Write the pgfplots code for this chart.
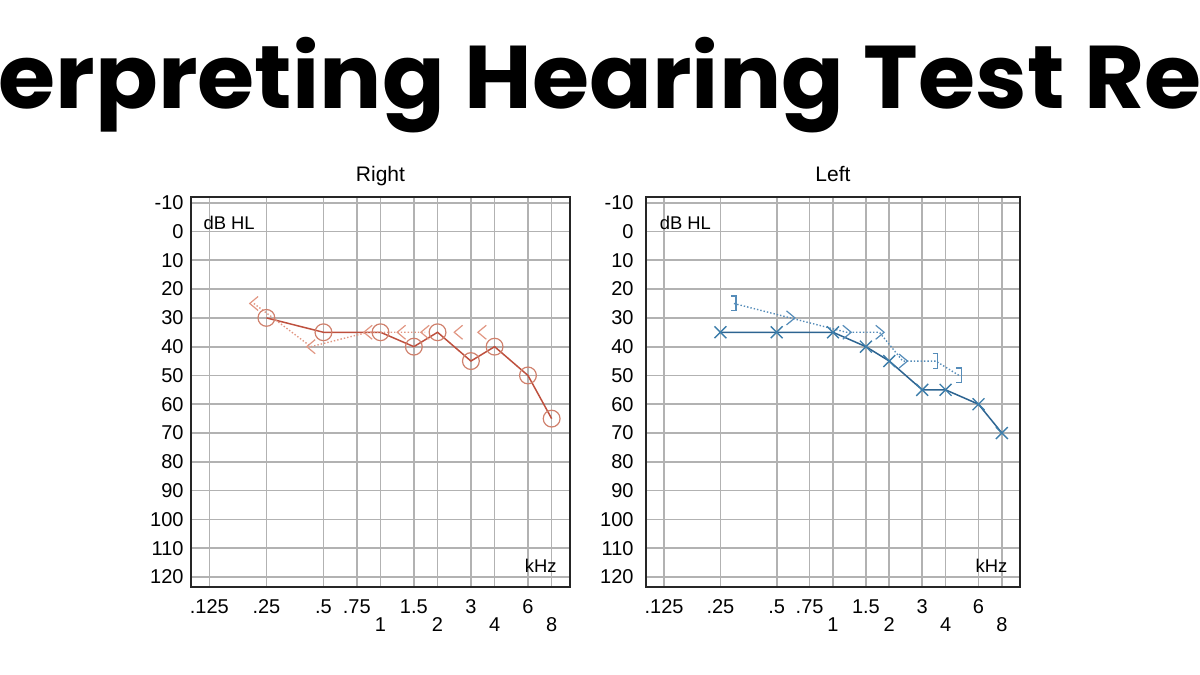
\documentclass[border=0pt]{standalone}
\usepackage{fontspec}
\setmainfont{Liberation Sans}
\newfontfamily\titlefont{Poppins}
\usepackage{pgfplots}
\pgfplotsset{compat=1.18}

\definecolor{airR}{RGB}{190,80,62}
\definecolor{markR}{RGB}{208,128,108}
\definecolor{boneR}{RGB}{225,150,130}
\definecolor{airL}{RGB}{45,100,145}
\definecolor{markL}{RGB}{60,125,170}
\definecolor{boneL}{RGB}{85,140,185}
\definecolor{gridc}{RGB}{178,178,178}

% bone conduction marks: < (right ear), > and ] (left ear)
\pgfdeclareplotmark{ltmark}{%
  \pgfpathmoveto{\pgfqpoint{0.6\pgfplotmarksize}{\pgfplotmarksize}}%
  \pgfpathlineto{\pgfqpoint{-0.6\pgfplotmarksize}{0pt}}%
  \pgfpathlineto{\pgfqpoint{0.6\pgfplotmarksize}{-\pgfplotmarksize}}%
  \pgfusepathqstroke}
\pgfdeclareplotmark{gtmark}{%
  \pgfpathmoveto{\pgfqpoint{-0.6\pgfplotmarksize}{\pgfplotmarksize}}%
  \pgfpathlineto{\pgfqpoint{0.6\pgfplotmarksize}{0pt}}%
  \pgfpathlineto{\pgfqpoint{-0.6\pgfplotmarksize}{-\pgfplotmarksize}}%
  \pgfusepathqstroke}
\pgfdeclareplotmark{rbmark}{%
  \pgfpathmoveto{\pgfqpoint{-0.35\pgfplotmarksize}{\pgfplotmarksize}}%
  \pgfpathlineto{\pgfqpoint{0.35\pgfplotmarksize}{\pgfplotmarksize}}%
  \pgfpathlineto{\pgfqpoint{0.35\pgfplotmarksize}{-\pgfplotmarksize}}%
  \pgfpathlineto{\pgfqpoint{-0.35\pgfplotmarksize}{-\pgfplotmarksize}}%
  \pgfusepathqstroke}

\begin{document}
\begin{tikzpicture}
\useasboundingbox (0,0) rectangle (600pt,337.5pt);
\node[anchor=base, inner sep=0pt, font=\titlefont\bfseries\fontsize{44.5}{50}\selectfont] at (326pt,283pt) {\scalebox{1.04}[1]{Interpreting Hearing Test Results}};

% right ear
\begin{axis}[
  at={(95.5pt,44pt)}, anchor=south west,
  scale only axis, width=189.5pt, height=195pt, clip=false,
  xmode=log, log basis x=2, xmin=0.1, xmax=10,
  y dir=reverse, ymin=-12, ymax=123.5,
  xtick={0.125,0.25,0.5,0.75,1,1.5,2,3,4,6,8},
  xticklabels={.125,.25,.5,.75,\raisebox{-9pt}{1},1.5,\raisebox{-9pt}{2},3,\raisebox{-9pt}{4},6,\raisebox{-9pt}{8}},
  ytick={-10,0,10,20,30,40,50,60,70,80,90,100,110,120},
  yticklabels={-10,0,10,20,30,40,50,60,70,80,90,100,110,120},
  grid=major, major grid style={gridc, line width=0.85pt},
  axis line style={black!85, line width=1pt},
  major tick length=0pt,
  tick label style={font=\fontsize{10}{12}\selectfont},
  xticklabel style={anchor=base, inner sep=0pt, yshift=-13pt},
  yticklabel style={anchor=east, inner sep=0pt, xshift=-3.5pt},
]
\addplot[airR, line width=0.75pt, mark=o, mark size=4.2pt,
  mark options={draw=markR, fill=white, line width=0.6pt}] coordinates {
  (0.25,30) (0.5,35) (1,35) (1.5,40) (2,35) (3,45) (4,40) (6,50) (8,65)};
\addplot[boneR, densely dotted, line width=0.7pt, xshift=-6.25pt, mark=ltmark, mark size=3.5pt,
  mark options={solid, line width=0.6pt}] coordinates {
  (0.25,25) (0.5,40) (1,35) (1.5,35) (2,35)};
\addplot[boneR, only marks, xshift=-6.25pt, mark=ltmark, mark size=3.5pt,
  mark options={solid, line width=0.6pt}] coordinates {
  (3,35) (4,35)};
\node[anchor=base, font=\fontsize{10.5}{12}\selectfont] at (axis cs:1,-17.3) {Right};
\node[anchor=base west, font=\fontsize{9.2}{11}\selectfont, inner sep=0pt] at (axis cs:0.116,-0.6) {dB HL};
\node[anchor=base east, font=\fontsize{9.2}{11}\selectfont, inner sep=0pt] at (axis cs:8.54,118.4) {kHz};
\end{axis}

% left ear
\begin{axis}[
  at={(323pt,44pt)}, anchor=south west,
  scale only axis, width=187pt, height=195pt, clip=false,
  xmode=log, log basis x=2, xmin=0.1, xmax=10,
  y dir=reverse, ymin=-12, ymax=123.5,
  xtick={0.125,0.25,0.5,0.75,1,1.5,2,3,4,6,8},
  xticklabels={.125,.25,.5,.75,\raisebox{-9pt}{1},1.5,\raisebox{-9pt}{2},3,\raisebox{-9pt}{4},6,\raisebox{-9pt}{8}},
  ytick={-10,0,10,20,30,40,50,60,70,80,90,100,110,120},
  yticklabels={-10,0,10,20,30,40,50,60,70,80,90,100,110,120},
  grid=major, major grid style={gridc, line width=0.85pt},
  axis line style={black!85, line width=1pt},
  major tick length=0pt,
  tick label style={font=\fontsize{10}{12}\selectfont},
  xticklabel style={anchor=base, inner sep=0pt, yshift=-13pt},
  yticklabel style={anchor=east, inner sep=0pt, xshift=-6pt},
]
\addplot[airL, line width=0.75pt, mark=x, mark size=4.2pt,
  mark options={draw=markL, line width=0.7pt}] coordinates {
  (0.25,35) (0.5,35) (1,35) (1.5,40) (2,45) (3,55) (4,55) (6,60) (8,70)};
% dotted bone line through all bone thresholds
\addplot[boneL, densely dotted, line width=0.7pt, xshift=6.75pt] coordinates {
  (0.25,25) (0.5,30) (1,35) (1.5,35) (2,45) (3,45) (4,50)};
\addplot[boneL, only marks, xshift=7pt, mark=gtmark, mark size=3.5pt,
  mark options={solid, line width=0.6pt}] coordinates {
  (0.5,30) (1,35) (1.5,35) (2,45)};
\addplot[boneL, only marks, xshift=6.5pt, mark=rbmark, mark size=3.7pt,
  mark options={solid, line width=0.6pt}] coordinates {
  (0.25,25) (3,45) (4,50)};
\node[anchor=base, font=\fontsize{10.5}{12}\selectfont] at (axis cs:1,-17.3) {Left};
\node[anchor=base west, font=\fontsize{9.2}{11}\selectfont, inner sep=0pt] at (axis cs:0.118,-0.6) {dB HL};
\node[anchor=base east, font=\fontsize{9.2}{11}\selectfont, inner sep=0pt] at (axis cs:8.6,118.4) {kHz};
\end{axis}
\end{tikzpicture}
\end{document}
